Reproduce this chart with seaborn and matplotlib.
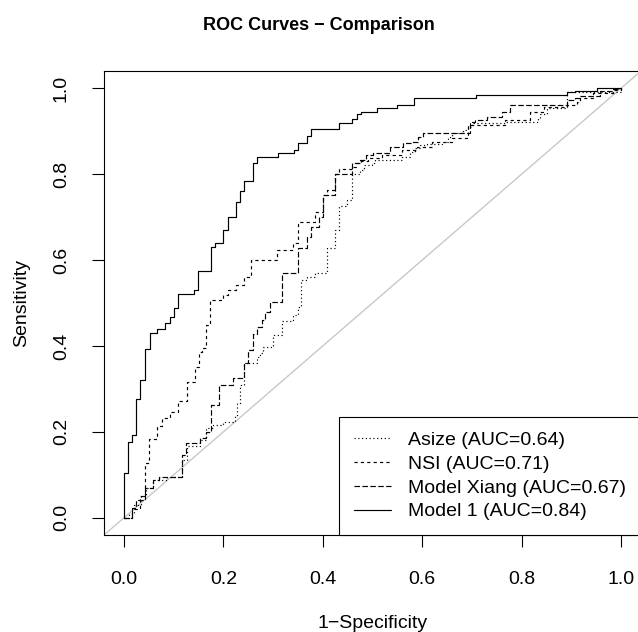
import matplotlib
matplotlib.use("Agg")
import matplotlib.pyplot as plt
import seaborn as sns
import pandas as pd

# ROC step vertices (1-specificity, sensitivity)
asize_fpr = [0, 0.010, 0.020, 0.035, 0.045, 0.059, 0.086, 0.116, 0.127, 0.153, 0.166, 0.180,
             0.200, 0.223, 0.227, 0.233, 0.241, 0.267, 0.274, 0.280, 0.300, 0.317, 0.341,
             0.351, 0.357, 0.368, 0.384, 0.409, 0.425, 0.433, 0.449, 0.458, 0.475, 0.482,
             0.498, 0.505, 0.559, 0.575, 0.586, 0.596, 0.609, 0.642, 0.652, 0.659, 0.682,
             0.693, 0.700, 0.767, 0.833, 0.837, 0.850, 0.892, 1.0]
asize_tpr = [0, 0.010, 0.030, 0.050, 0.070, 0.088, 0.096, 0.135, 0.167, 0.181, 0.209, 0.216,
             0.224, 0.236, 0.267, 0.309, 0.360, 0.375, 0.383, 0.398, 0.426, 0.457, 0.472,
             0.491, 0.553, 0.560, 0.569, 0.627, 0.670, 0.726, 0.740, 0.800, 0.810, 0.821,
             0.825, 0.833, 0.840, 0.852, 0.860, 0.867, 0.871, 0.875, 0.887, 0.895, 0.902,
             0.910, 0.918, 0.921, 0.930, 0.941, 0.953, 0.990, 1.0]

nsi_fpr = [0, 0.016, 0.032, 0.042, 0.051, 0.067, 0.076, 0.093, 0.109, 0.126, 0.143, 0.152,
           0.158, 0.166, 0.174, 0.200, 0.209, 0.225, 0.242, 0.255, 0.307, 0.341, 0.351,
           0.384, 0.400, 0.409, 0.425, 0.433, 0.458, 0.467, 0.476, 0.490, 0.520, 0.560,
           0.590, 0.620, 0.660, 0.693, 0.767, 0.817, 0.844, 0.891, 0.911, 0.917, 0.944,
           0.985, 1.0]
nsi_tpr = [0, 0.020, 0.050, 0.127, 0.183, 0.214, 0.232, 0.247, 0.273, 0.317, 0.352, 0.387,
           0.395, 0.449, 0.507, 0.519, 0.530, 0.542, 0.561, 0.600, 0.623, 0.640, 0.689,
           0.712, 0.751, 0.763, 0.800, 0.811, 0.816, 0.826, 0.831, 0.838, 0.845, 0.855,
           0.862, 0.875, 0.885, 0.914, 0.926, 0.945, 0.957, 0.962, 0.968, 0.976, 0.988,
           0.995, 1.0]

xiang_fpr = [0, 0.016, 0.025, 0.042, 0.059, 0.070, 0.116, 0.125, 0.153, 0.166, 0.176, 0.192,
             0.220, 0.241, 0.250, 0.259, 0.267, 0.277, 0.284, 0.293, 0.317, 0.351, 0.368,
             0.376, 0.392, 0.400, 0.425, 0.458, 0.475, 0.487, 0.501, 0.535, 0.562, 0.579,
             0.592, 0.601, 0.696, 0.706, 0.730, 0.760, 0.777, 0.892, 0.907, 0.917, 0.958,
             0.981, 1.0]
xiang_tpr = [0, 0.023, 0.042, 0.069, 0.088, 0.096, 0.147, 0.174, 0.185, 0.200, 0.263, 0.309,
             0.325, 0.360, 0.391, 0.429, 0.445, 0.460, 0.480, 0.503, 0.569, 0.627, 0.654,
             0.677, 0.700, 0.751, 0.800, 0.825, 0.833, 0.844, 0.848, 0.863, 0.873, 0.875,
             0.887, 0.896, 0.922, 0.927, 0.933, 0.945, 0.960, 0.972, 0.976, 0.981, 0.994,
             0.999, 1.0]

model1_fpr = [0, 0.000, 0.008, 0.016, 0.025, 0.033, 0.042, 0.052, 0.066, 0.083, 0.092, 0.100,
              0.108, 0.141, 0.150, 0.175, 0.184, 0.200, 0.209, 0.225, 0.234, 0.242, 0.259,
              0.268, 0.309, 0.343, 0.350, 0.368, 0.376, 0.433, 0.458, 0.468, 0.476, 0.509,
              0.550, 0.583, 0.708, 0.892, 0.908, 0.951, 1.0]
model1_tpr = [0, 0.104, 0.176, 0.193, 0.276, 0.321, 0.392, 0.430, 0.440, 0.454, 0.468, 0.488,
              0.520, 0.530, 0.575, 0.631, 0.640, 0.671, 0.700, 0.735, 0.760, 0.784, 0.825,
              0.840, 0.848, 0.857, 0.873, 0.888, 0.904, 0.920, 0.929, 0.940, 0.945, 0.953,
              0.960, 0.976, 0.984, 0.990, 0.993, 1.0, 1.0]

labels = ["Asize (AUC=0.64)", "NSI (AUC=0.71)", "Model Xiang (AUC=0.67)", "Model 1 (AUC=0.84)"]
ticks = [0.0, 0.2, 0.4, 0.6, 0.8, 1.0]

sns.set_style("ticks", {"axes.edgecolor": "black", "xtick.color": "black",
                        "ytick.color": "black", "text.color": "black",
                        "axes.labelcolor": "black"})
plt.rcParams["font.family"] = ["Liberation Sans", "DejaVu Sans"]

fig = plt.figure(figsize=(6.38, 6.32), dpi=100)
ax = fig.add_axes([104 / 638, 1 - 535 / 632, 537 / 638, 464 / 632])

ax.axline((0, 0), slope=1, color="#c8c8c8", lw=1.0, zorder=1)

styles = [(0, (1.0, 2.2)), (0, (2.7, 2.7)), (0, (4.7, 2.0)), "-"]
curves = [(asize_fpr, asize_tpr), (nsi_fpr, nsi_tpr), (xiang_fpr, xiang_tpr), (model1_fpr, model1_tpr)]
for (fpr, tpr), lab, ls in zip(curves, labels, styles):
    df = pd.DataFrame({"fpr": fpr, "tpr": tpr})
    sns.lineplot(data=df, x="fpr", y="tpr", ax=ax, estimator=None, sort=False,
                 color="black", lw=0.85, linestyle=ls, drawstyle="steps-post", label=lab)

ax.set_xlim(-0.04, 1.04)
ax.set_ylim(-0.04, 1.04)
ax.set_xticks(ticks)
ax.set_yticks(ticks)
ax.set_xticklabels([f"{t:.1f}" for t in ticks])
ax.set_yticklabels([f"{t:.1f}" for t in ticks], rotation=90, va="center")
ax.tick_params(direction="out", length=8.6, width=0.8, labelsize=14, pad=16)
ax.tick_params(axis="x", pad=17)
for s in ax.spines.values():
    s.set_linewidth(0.8)

ax.set_xlabel("1\u2212Specificity", fontsize=14, labelpad=20)
ax.set_ylabel("Sensitivity", fontsize=14, labelpad=16)
fig.text(0.5, 1 - 25 / 632, "ROC Curves \u2212 Comparison", ha="center", va="center",
         fontsize=13, fontweight="bold")

leg = ax.legend(loc="lower right", bbox_to_anchor=(1, 0), borderaxespad=0, fontsize=14,
                frameon=True, fancybox=False, edgecolor="black", framealpha=1,
                handlelength=1.9, handletextpad=0.9, borderpad=0.75, labelspacing=0.32)
leg.get_frame().set_linewidth(0.8)

fig.savefig("out.png", dpi=100)
